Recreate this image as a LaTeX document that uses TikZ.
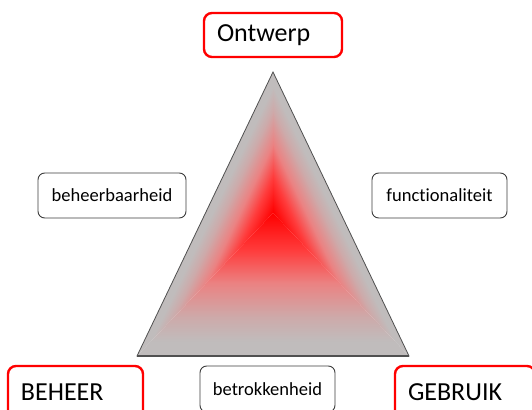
\documentclass[tikz,border=0pt]{standalone}
\usepackage{fontspec}
\setmainfont[Ligatures=NoCommon]{Carlito}
\definecolor{tgray}{RGB}{192,188,188}
\definecolor{ca}{RGB}{255,60,60}
\definecolor{cb}{RGB}{235,130,130}
\definecolor{cc}{RGB}{205,170,170}
\definecolor{edgegray}{RGB}{80,80,80}
\definecolor{boxline}{RGB}{60,60,60}
\pgfdeclareverticalshading{trishade}{100bp}{color(0bp)=(tgray); color(30bp)=(tgray); color(38.5bp)=(cc); color(50.5bp)=(cb); color(62bp)=(ca); color(75bp)=(red); color(100bp)=(red)}
\tikzset{
  bigbox/.style={draw=red, line width=1.8pt, rounded corners=6pt, fill=white,
    font=\fontsize{19.5pt}{22pt}\selectfont, inner xsep=9.75pt, inner ysep=0pt, align=left},
  smallbox/.style={draw=boxline, line width=0.7pt, rounded corners=5pt, fill=white,
    font=\fontsize{13.9pt}{16pt}\selectfont, inner sep=0pt, align=center},
  shadeset/.style={shading=trishade}
}
\begin{document}
\begin{tikzpicture}[x=0.75pt,y=0.75pt]
\useasboundingbox (0,0) rectangle (532,410);
\clip (0,0) rectangle (532,410);
% triangle corners
\coordinate (A) at (273,338);
\coordinate (L) at (137,54);
\coordinate (R) at (409,54);
\coordinate (C) at (273,197);
% path gradient: three sub-triangles
\begin{scope}
  \clip (C) -- (L) -- (R) -- cycle;
  \shade[shadeset] (120,54) rectangle (420,197);
\end{scope}
\begin{scope}
  \clip (C) -- (L) -- (A) -- cycle;
  \shade[shadeset, transform canvas={shift={(273,197)},rotate=-115.59}] (-300,0) rectangle (300,-60.9);
\end{scope}
\begin{scope}
  \clip (C) -- (R) -- (A) -- cycle;
  \shade[shadeset, transform canvas={shift={(273,197)},rotate=115.59}] (-300,0) rectangle (300,-60.9);
\end{scope}
\draw[edgegray, line width=0.6pt, line join=miter] (A) -- (L) -- (R) -- cycle;
\draw[edgegray, line width=1.4pt] (L) -- (R);
% boxes
\node[bigbox, minimum height=33pt, text width=84pt] (ontwerp) at (273,375) {Ontwerp};
\node[bigbox, minimum height=39pt, text width=81.75pt] (beheer) at (75.5,18) {BEHEER};
\node[bigbox, minimum height=39pt, text width=85.5pt] (gebruik) at (465,18) {GEBRUIK};
\node[smallbox, minimum width=101.25pt, minimum height=34.5pt] (betrok) at (267.5,21) {betrokkenheid};
\node[smallbox, minimum width=111pt, minimum height=33.75pt] (beheerb) at (112,214.5) {beheerbaarheid};
\node[smallbox, minimum width=101.25pt, minimum height=33.75pt] (funct) at (439.5,214.5) {functionaliteit};
\end{tikzpicture}
\end{document}
